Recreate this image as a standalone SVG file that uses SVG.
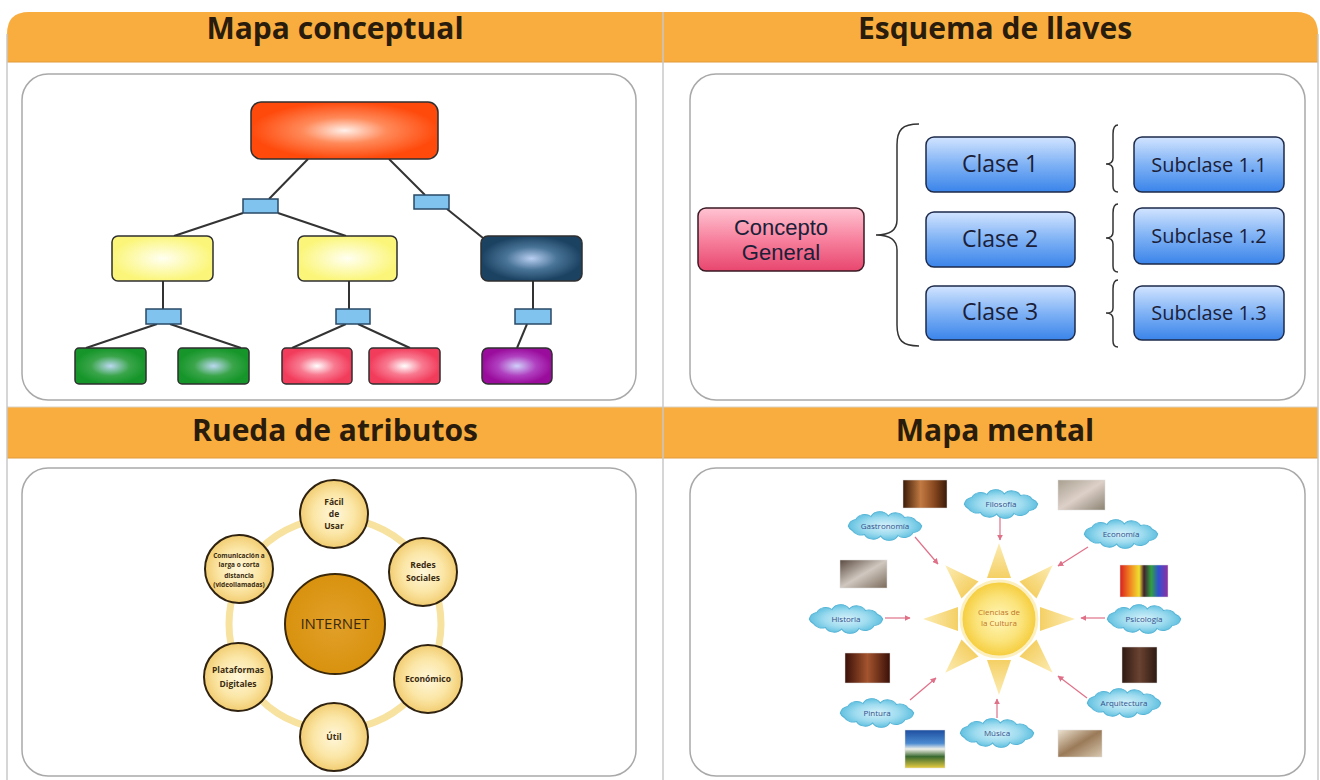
<svg xmlns="http://www.w3.org/2000/svg" xmlns:xlink="http://www.w3.org/1999/xlink" width="1320" height="780" viewBox="0 0 1320 780">
<style>
.hdr{font-family:"Open Sans","Liberation Sans",sans-serif;font-weight:bold;font-size:30px;fill:#2a1c0c;text-anchor:middle}
.panel{fill:#fff;stroke:#a9a9a9;stroke-width:1.5}
.frame{stroke:#c9c9c9;stroke-width:1.5;fill:none}
.ln{stroke:#333;stroke-width:2;fill:none}
.cbox{stroke:#2f2f2f;stroke-width:1.5}
.lnk{fill:#7fc3ee;stroke:#2a4a66;stroke-width:1.5}
.blue{fill:url(#gBlue);stroke:#1d2a4a;stroke-width:1.5}
.etx{font-family:"Open Sans","Liberation Sans",sans-serif;fill:#1b2038;text-anchor:middle}
.brace{stroke:#333;stroke-width:1.5;fill:none}
.att{fill:url(#gAtt);stroke:#2f2210;stroke-width:2}
.atx{font-family:"Open Sans","Liberation Sans",sans-serif;font-weight:bold;fill:#3a2a10;text-anchor:middle}
.cloud{fill:url(#gCloud);stroke:#56b4d6;stroke-width:1}
.ctx{font-family:"Open Sans","Liberation Sans",sans-serif;font-size:8px;fill:#33508a;text-anchor:middle}
.arr{stroke:#e07088;stroke-width:1.2;fill:none;marker-end:url(#ah)}
.photo{stroke:#ddd;stroke-width:0.5}
</style>
<defs>
<radialGradient id="gTop"><stop offset="0" stop-color="#fff0ea"/><stop offset="0.45" stop-color="#ff8a5a"/><stop offset="1" stop-color="#ff4a0c"/></radialGradient>
<radialGradient id="gYel"><stop offset="0" stop-color="#fffff2"/><stop offset="1" stop-color="#fbf67a"/></radialGradient>
<radialGradient id="gNavy"><stop offset="0" stop-color="#b9cff2"/><stop offset="0.5" stop-color="#4a7598"/><stop offset="1" stop-color="#1c4262"/></radialGradient>
<radialGradient id="gGreen"><stop offset="0" stop-color="#bcd8f2"/><stop offset="0.55" stop-color="#3aa54a"/><stop offset="1" stop-color="#16962a"/></radialGradient>
<radialGradient id="gRed"><stop offset="0" stop-color="#ffffff"/><stop offset="0.5" stop-color="#f87a90"/><stop offset="1" stop-color="#f23c5c"/></radialGradient>
<radialGradient id="gPur"><stop offset="0" stop-color="#d0d0fa"/><stop offset="0.55" stop-color="#b040c0"/><stop offset="1" stop-color="#9a0c9c"/></radialGradient>
<linearGradient id="gBlue" x1="0" y1="0" x2="0" y2="1"><stop offset="0" stop-color="#d2e4ff"/><stop offset="0.5" stop-color="#7fb2f5"/><stop offset="1" stop-color="#3a84ea"/></linearGradient>
<linearGradient id="gPink" x1="0" y1="0" x2="0" y2="1"><stop offset="0" stop-color="#ffc4d2"/><stop offset="0.5" stop-color="#f7819e"/><stop offset="1" stop-color="#e8466e"/></linearGradient>
<radialGradient id="gAtt"><stop offset="0" stop-color="#fff7da"/><stop offset="0.6" stop-color="#fbe6a6"/><stop offset="1" stop-color="#f2cd72"/></radialGradient>
<radialGradient id="gNet"><stop offset="0" stop-color="#e2a02a"/><stop offset="1" stop-color="#d8920e"/></radialGradient>
<radialGradient id="gCloud"><stop offset="0" stop-color="#d6f1fa"/><stop offset="0.6" stop-color="#9ddbef"/><stop offset="1" stop-color="#62c1e0"/></radialGradient>
<radialGradient id="gSun"><stop offset="0" stop-color="#fff6b8"/><stop offset="0.6" stop-color="#fbe37a"/><stop offset="1" stop-color="#f5cc3a"/></radialGradient>
<linearGradient id="gRay" gradientUnits="userSpaceOnUse" x1="0" y1="-76" x2="0" y2="-40"><stop offset="0" stop-color="#fcecb4"/><stop offset="1" stop-color="#f4cf62"/></linearGradient>
<linearGradient id="p1" x1="0" y1="0" x2="1" y2="0"><stop offset="0" stop-color="#3a1a08"/><stop offset="0.4" stop-color="#c27a42"/><stop offset="0.7" stop-color="#8a4a20"/><stop offset="1" stop-color="#3a1a08"/></linearGradient>
<linearGradient id="p2" x1="0" y1="0" x2="1" y2="1"><stop offset="0" stop-color="#a8a090"/><stop offset="0.5" stop-color="#ddd0c8"/><stop offset="1" stop-color="#8a8272"/></linearGradient>
<linearGradient id="p3" x1="0" y1="0" x2="1" y2="1"><stop offset="0" stop-color="#5a4a40"/><stop offset="0.5" stop-color="#d0c8c0"/><stop offset="1" stop-color="#7a6a5a"/></linearGradient>
<linearGradient id="p4" x1="0" y1="0" x2="1" y2="0"><stop offset="0" stop-color="#d82020"/><stop offset="0.2" stop-color="#f08020"/><stop offset="0.4" stop-color="#f0e030"/><stop offset="0.5" stop-color="#402030"/><stop offset="0.65" stop-color="#30a040"/><stop offset="0.8" stop-color="#3050d0"/><stop offset="1" stop-color="#9030a0"/></linearGradient>
<linearGradient id="p5" x1="0" y1="0" x2="1" y2="0"><stop offset="0" stop-color="#3a1008"/><stop offset="0.5" stop-color="#a4542e"/><stop offset="1" stop-color="#3a1008"/></linearGradient>
<linearGradient id="p6" x1="0" y1="0" x2="1" y2="0"><stop offset="0" stop-color="#2e1a12"/><stop offset="0.5" stop-color="#6a4232"/><stop offset="1" stop-color="#2e1a12"/></linearGradient>
<linearGradient id="p7" x1="0" y1="0" x2="0" y2="1"><stop offset="0" stop-color="#1e4ea0"/><stop offset="0.35" stop-color="#4a8ad0"/><stop offset="0.5" stop-color="#f0f0e8"/><stop offset="0.7" stop-color="#3a6a30"/><stop offset="1" stop-color="#e8cc40"/></linearGradient>
<linearGradient id="p8" x1="0" y1="0" x2="1" y2="1"><stop offset="0" stop-color="#ece2d0"/><stop offset="0.5" stop-color="#9a7a58"/><stop offset="1" stop-color="#d8c8b0"/></linearGradient>
<path id="cloudShape" d="M34,0 A9,9 0 0 1 26,7 A9,9 0 0 1 12,10 A9,9 0 0 1 -4,10.5 A9,9 0 0 1 -19,9 A9,9 0 0 1 -30,5 A9,9 0 0 1 -34,0 A9,9 0 0 1 -27,-7 A9,9 0 0 1 -13,-10 A9,9 0 0 1 3,-10.5 A9,9 0 0 1 18,-9 A9,9 0 0 1 29,-5 A9,9 0 0 1 34,0 Z"/>
<polygon id="ray" points="0,-76 -12,-41 12,-41" fill="url(#gRay)"/>
<marker id="ah" viewBox="0 0 10 10" refX="9" refY="5" markerWidth="5" markerHeight="5" orient="auto"><path d="M0,0 L10,5 L0,10 Z" fill="#e07088"/></marker>
</defs>

<!-- frame and headers -->
<g id="frame">
<path d="M7,62 L7,34 Q7,12 29,12 L1296,12 Q1318,12 1318,34 L1318,62 Z" fill="#f8ad3e"/>
<rect x="7" y="407" width="1311" height="51" fill="#f8ad3e"/>
<line x1="7" y1="62" x2="1318" y2="62" stroke="#e29a3a" stroke-width="1"/>
<line x1="7" y1="407" x2="1318" y2="407" stroke="#d9d0c4" stroke-width="1"/>
<line x1="7" y1="458" x2="1318" y2="458" stroke="#e29a3a" stroke-width="1"/>
<line class="frame" x1="7" y1="34" x2="7" y2="780"/>
<line class="frame" x1="1318" y1="34" x2="1318" y2="780"/>
<line class="frame" x1="663" y1="12" x2="663" y2="780"/>
<text class="hdr" x="335" y="39">Mapa conceptual</text>
<text class="hdr" x="995" y="39">Esquema de llaves</text>
<text class="hdr" x="335" y="441">Rueda de atributos</text>
<text class="hdr" x="995" y="441">Mapa mental</text>
<rect class="panel" x="22" y="74" width="614" height="326" rx="26"/>
<rect class="panel" x="690" y="74" width="615" height="326" rx="26"/>
<rect class="panel" x="22" y="468" width="614" height="308" rx="26"/>
<rect class="panel" x="690" y="468" width="615" height="308" rx="26"/>
</g>

<!-- Mapa conceptual -->
<g id="mc-connectors">
<line class="ln" x1="308" y1="159" x2="269" y2="199"/>
<line class="ln" x1="389" y1="159" x2="425" y2="195"/>
<line class="ln" x1="243" y1="213" x2="174" y2="236"/>
<line class="ln" x1="278" y1="213" x2="346" y2="236"/>
<line class="ln" x1="447" y1="209" x2="483" y2="238"/>
<line class="ln" x1="163" y1="281" x2="163" y2="309"/>
<line class="ln" x1="349" y1="281" x2="349" y2="309"/>
<line class="ln" x1="533" y1="281" x2="533" y2="309"/>
<line class="ln" x1="157" y1="324" x2="86" y2="348"/>
<line class="ln" x1="170" y1="324" x2="241" y2="348"/>
<line class="ln" x1="346" y1="324" x2="292" y2="348"/>
<line class="ln" x1="358" y1="324" x2="410" y2="348"/>
<line class="ln" x1="527" y1="324" x2="517" y2="348"/>
</g>
<g id="mc-root"><rect class="cbox" x="251" y="102" width="187" height="57" rx="10" fill="url(#gTop)"/></g>
<g id="mc-link1"><rect class="lnk" x="243" y="199" width="35" height="14"/></g>
<g id="mc-link2"><rect class="lnk" x="414" y="195" width="35" height="14"/></g>
<g id="mc-y1"><rect class="cbox" x="112" y="236" width="101" height="45" rx="6" fill="url(#gYel)"/></g>
<g id="mc-y2"><rect class="cbox" x="298" y="236" width="99" height="45" rx="6" fill="url(#gYel)"/></g>
<g id="mc-navy"><rect class="cbox" x="481" y="236" width="101" height="45" rx="7" fill="url(#gNavy)"/></g>
<g id="mc-link3"><rect class="lnk" x="146" y="309" width="35" height="15"/></g>
<g id="mc-link4"><rect class="lnk" x="336" y="309" width="34" height="15"/></g>
<g id="mc-link5"><rect class="lnk" x="515" y="309" width="36" height="15"/></g>
<g id="mc-g1"><rect class="cbox" x="75" y="348" width="71" height="36" rx="4" fill="url(#gGreen)"/></g>
<g id="mc-g2"><rect class="cbox" x="178" y="348" width="71" height="36" rx="4" fill="url(#gGreen)"/></g>
<g id="mc-r1"><rect class="cbox" x="282" y="348" width="70" height="36" rx="4" fill="url(#gRed)"/></g>
<g id="mc-r2"><rect class="cbox" x="369" y="348" width="71" height="36" rx="4" fill="url(#gRed)"/></g>
<g id="mc-p"><rect class="cbox" x="482" y="348" width="70" height="36" rx="6" fill="url(#gPur)"/></g>

<!-- Esquema de llaves -->
<g id="el-braces">
<path class="brace" d="M919,124 C902,124 897,130 897,145 L897,220 C897,230 890,235 876,235 C890,235 897,240 897,250 L897,325 C897,340 902,346 919,346"/>
<path class="brace" d="M1118,125 C1114,125 1113,128 1113,134 L1113,158 C1113,162 1111,164 1106,164 C1111,164 1113,166 1113,170 L1113,186 C1113,190 1114,192 1118,192"/>
<path class="brace" d="M1118,204 C1114,204 1113,207 1113,213 L1113,232 C1113,236 1111,238 1106,238 C1111,238 1113,240 1113,244 L1113,266 C1113,270 1114,272 1118,272"/>
<path class="brace" d="M1118,280 C1114,280 1113,283 1113,289 L1113,308 C1113,312 1111,313 1106,313 C1111,313 1113,315 1113,319 L1113,341 C1113,345 1114,347 1118,347"/>
</g>
<g id="el-concepto"><rect x="698" y="208" width="166" height="63" rx="8" fill="url(#gPink)" stroke="#3a1a24" stroke-width="1.5"/>
<text x="781" y="235" font-family="'Liberation Sans',sans-serif" font-size="22" fill="#1b2038" text-anchor="middle">Concepto</text><text x="781" y="260" font-family="'Liberation Sans',sans-serif" font-size="22" fill="#1b2038" text-anchor="middle">General</text></g>
<g id="el-c1"><rect class="blue" x="926" y="137" width="149" height="55" rx="8"/><text class="etx" x="1000" y="172" font-size="23">Clase 1</text></g>
<g id="el-c2"><rect class="blue" x="926" y="212" width="149" height="55" rx="8"/><text class="etx" x="1000" y="247" font-size="23">Clase 2</text></g>
<g id="el-c3"><rect class="blue" x="926" y="286" width="149" height="54" rx="8"/><text class="etx" x="1000" y="320" font-size="23">Clase 3</text></g>
<g id="el-s1"><rect class="blue" x="1134" y="137" width="150" height="55" rx="8"/><text class="etx" x="1209" y="172" font-size="20">Subclase 1.1</text></g>
<g id="el-s2"><rect class="blue" x="1134" y="208" width="150" height="56" rx="8"/><text class="etx" x="1209" y="243" font-size="20">Subclase 1.2</text></g>
<g id="el-s3"><rect class="blue" x="1134" y="286" width="150" height="54" rx="8"/><text class="etx" x="1209" y="320" font-size="20">Subclase 1.3</text></g>

<!-- Rueda de atributos -->
<g id="ra-ring"><circle cx="335" cy="624" r="106" fill="none" stroke="#f7e2a0" stroke-width="7"/></g>
<g id="ra-internet"><circle cx="335" cy="624" r="50" fill="url(#gNet)" stroke="#3a2808" stroke-width="2"/>
<text x="335" y="629" font-family="'Open Sans','Liberation Sans',sans-serif" font-size="15" fill="#3a2a10" text-anchor="middle">INTERNET</text></g>
<g id="ra-facil"><circle class="att" cx="334" cy="514" r="34"/>
<text class="atx" font-size="8.5"><tspan x="334" y="505">Fácil</tspan><tspan x="334" y="517">de</tspan><tspan x="334" y="529">Usar</tspan></text></g>
<g id="ra-redes"><circle class="att" cx="423" cy="572" r="34"/>
<text class="atx" font-size="8.5"><tspan x="423" y="568">Redes</tspan><tspan x="423" y="581">Sociales</tspan></text></g>
<g id="ra-econ"><circle class="att" cx="428" cy="679" r="34"/>
<text class="atx" font-size="8.5" x="428" y="682">Económico</text></g>
<g id="ra-util"><circle class="att" cx="334" cy="737" r="34"/>
<text class="atx" font-size="8.5" x="334" y="740">Útil</text></g>
<g id="ra-plat"><circle class="att" cx="238" cy="677" r="34"/>
<text class="atx" font-size="8.5"><tspan x="238" y="673">Plataformas</tspan><tspan x="238" y="687">Digitales</tspan></text></g>
<g id="ra-com"><circle class="att" cx="239" cy="569" r="34"/>
<text class="atx" font-size="6.5"><tspan x="239" y="558">Comunicación a</tspan><tspan x="239" y="567">larga o corta</tspan><tspan x="239" y="578">distancia</tspan><tspan x="239" y="587">(videollamadas)</tspan></text></g>

<!-- Mapa mental -->
<g id="mm-photos">
<rect class="photo" x="903" y="480" width="44" height="28" fill="url(#p1)"/>
<rect class="photo" x="1058" y="480" width="47" height="30" fill="url(#p2)"/>
<rect class="photo" x="840" y="560" width="47" height="28" fill="url(#p3)"/>
<rect class="photo" x="1120" y="565" width="48" height="32" fill="url(#p4)"/>
<rect class="photo" x="845" y="653" width="45" height="30" fill="url(#p5)"/>
<rect class="photo" x="1122" y="647" width="35" height="36" fill="url(#p6)"/>
<rect class="photo" x="905" y="730" width="40" height="38" fill="url(#p7)"/>
<rect class="photo" x="1058" y="730" width="44" height="27" fill="url(#p8)"/>
</g>
<g id="mm-sun">
<use xlink:href="#ray" href="#ray" transform="translate(999,619)"/>
<use xlink:href="#ray" href="#ray" transform="translate(999,619) rotate(45)"/>
<use xlink:href="#ray" href="#ray" transform="translate(999,619) rotate(90)"/>
<use xlink:href="#ray" href="#ray" transform="translate(999,619) rotate(135)"/>
<use xlink:href="#ray" href="#ray" transform="translate(999,619) rotate(180)"/>
<use xlink:href="#ray" href="#ray" transform="translate(999,619) rotate(225)"/>
<use xlink:href="#ray" href="#ray" transform="translate(999,619) rotate(270)"/>
<use xlink:href="#ray" href="#ray" transform="translate(999,619) rotate(315)"/>
<circle cx="999" cy="619" r="38" fill="url(#gSun)" stroke="#fdf0c0" stroke-width="3"/>
<text font-family="'Open Sans','Liberation Sans',sans-serif" font-size="8" fill="#c0762a" text-anchor="middle"><tspan x="999" y="615">Ciencias de</tspan><tspan x="999" y="626">la Cultura</tspan></text>
</g>
<g id="mm-arrows">
<line class="arr" x1="1000" y1="517" x2="1000" y2="540"/>
<line class="arr" x1="915" y1="537" x2="938" y2="564"/>
<line class="arr" x1="1088" y1="547" x2="1058" y2="566"/>
<line class="arr" x1="885" y1="618" x2="910" y2="618"/>
<line class="arr" x1="1105" y1="618" x2="1081" y2="618"/>
<line class="arr" x1="910" y1="700" x2="936" y2="678"/>
<line class="arr" x1="997" y1="718" x2="997" y2="699"/>
<line class="arr" x1="1087" y1="698" x2="1058" y2="676"/>
</g>
<g id="mm-filosofia"><use xlink:href="#cloudShape" href="#cloudShape" class="cloud" transform="translate(1001,504) scale(1.08,0.95)"/><text class="ctx" x="1001" y="507">Filosofía</text></g>
<g id="mm-gastronomia"><use xlink:href="#cloudShape" href="#cloudShape" class="cloud" transform="translate(885,526) scale(1.08,0.95)"/><text class="ctx" x="885" y="529">Gastronomía</text></g>
<g id="mm-economia"><use xlink:href="#cloudShape" href="#cloudShape" class="cloud" transform="translate(1121,534) scale(1.08,0.95)"/><text class="ctx" x="1121" y="537">Economía</text></g>
<g id="mm-historia"><use xlink:href="#cloudShape" href="#cloudShape" class="cloud" transform="translate(846,619) scale(1.08,0.95)"/><text class="ctx" x="846" y="622">Historia</text></g>
<g id="mm-psicologia"><use xlink:href="#cloudShape" href="#cloudShape" class="cloud" transform="translate(1144,619) scale(1.08,0.95)"/><text class="ctx" x="1144" y="622">Psicología</text></g>
<g id="mm-pintura"><use xlink:href="#cloudShape" href="#cloudShape" class="cloud" transform="translate(877,713) scale(1.08,0.95)"/><text class="ctx" x="877" y="716">Pintura</text></g>
<g id="mm-musica"><use xlink:href="#cloudShape" href="#cloudShape" class="cloud" transform="translate(997,733) scale(1.08,0.95)"/><text class="ctx" x="997" y="736">Música</text></g>
<g id="mm-arquitectura"><use xlink:href="#cloudShape" href="#cloudShape" class="cloud" transform="translate(1124,703) scale(1.08,0.95)"/><text class="ctx" x="1124" y="706">Arquitectura</text></g>
</svg>
